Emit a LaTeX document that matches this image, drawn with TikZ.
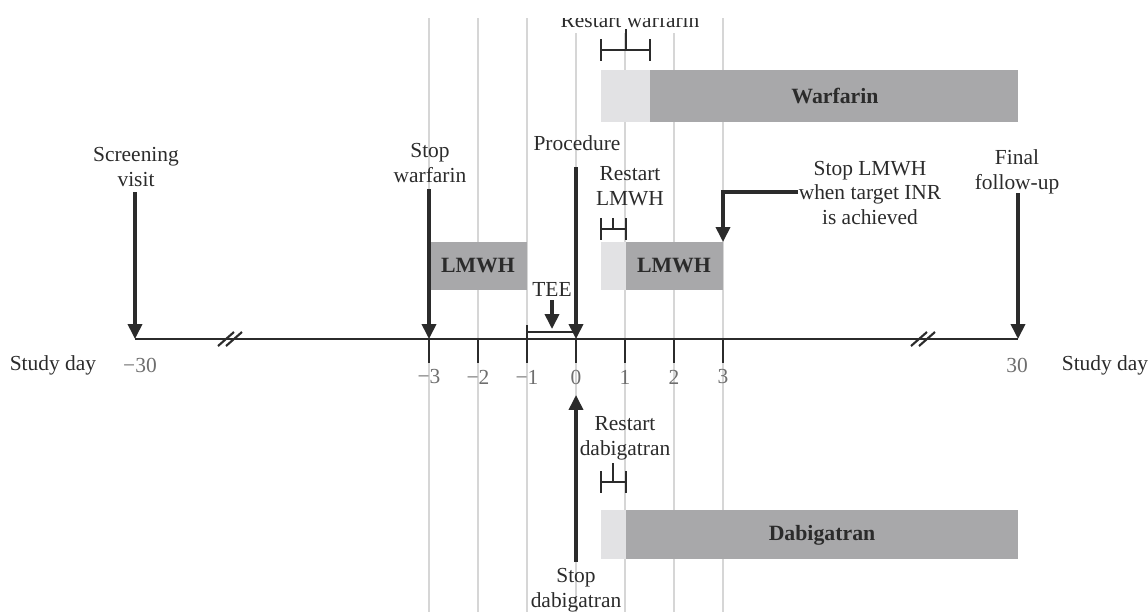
\documentclass[tikz,border=0pt]{standalone}
\usepackage{fontspec}
\setmainfont{Liberation Serif}
\usetikzlibrary{arrows.meta}

\definecolor{ink}{HTML}{2B2B2B}
\definecolor{gridgray}{HTML}{D6D6D6}
\definecolor{barlight}{HTML}{E2E2E4}
\definecolor{bardark}{HTML}{A8A8AA}
\definecolor{numgray}{HTML}{6E6E6E}

\tikzset{
  lbl/.style={text=ink, font=\fontsize{12.2}{14}\selectfont, align=center, inner sep=0pt},
  barlabel/.style={text=ink, font=\fontsize{12.4}{14}\selectfont\bfseries, inner sep=0pt},
  daynum/.style={text=numgray, font=\fontsize{12.2}{14}\selectfont, inner sep=0pt},
  event/.style={ink, line width=1.9pt, -{Triangle[width=8pt,length=8.5pt]}},
  axisline/.style={ink, line width=1.5pt},
  window/.style={ink, line width=1.2pt},
  gridline/.style={gridgray, line width=0.8pt},
  breakmark/.style={ink, line width=1.2pt},
}

\begin{document}
\begin{tikzpicture}[x=0.02cm, y=-0.02cm]
\useasboundingbox (0,0) rectangle (1148,612);
\begin{scope}
\clip (0,18) rectangle (1148,612);

% day grid, one line per day from -3 to 3
\foreach \d in {-3,...,3}
  \draw[gridline] ({576+49*\d},18) -- ({576+49*\d},612);

% ---- warfarin arm (top) ----
\node[lbl, fill=white, inner ysep=2.5pt, anchor=base] (rwarf) at (630,28) {Restart warfarin};
\coordinate (rw-stem) at (626,29);
\coordinate (rw-l) at (601,50);
\coordinate (rw-r) at (650,50);
\coordinate (rw-mid) at (626,50);
\draw[window] (rw-stem) -- (rw-mid);
\draw[window] (rw-l) -- (rw-r);
\draw[window] ([yshift=-6]rw-l) -- ([yshift=6]rw-l);
\draw[window] ([yshift=-6]rw-r) -- ([yshift=6]rw-r);
\fill[barlight] (601,70) rectangle (650,122);
\fill[bardark] (650,70) rectangle (1018,122);
\node[barlabel] (warf) at (835,96) {Warfarin};

% ---- LMWH bridging ----
\fill[bardark] (429,242) rectangle (527,290);
\node[barlabel] (lmwh1) at (478,266) {LMWH};
\fill[barlight] (601,242) rectangle (626,290);
\fill[bardark] (626,242) rectangle (723,290);
\node[barlabel] (lmwh2) at (674,266) {LMWH};

\node[lbl] (rlmwh) at (630,186) {Restart\\LMWH};
\coordinate (rl-stem) at (613,218);
\coordinate (rl-mid) at (613,229);
\coordinate (rl-l) at (601,229);
\coordinate (rl-r) at (626,229);
\draw[window] (rl-stem) -- (rl-mid);
\draw[window] (rl-l) -- (rl-r);
\draw[window] ([yshift=-6]rl-l) -- ([yshift=6]rl-l);
\draw[window] ([yshift=-6]rl-r) -- ([yshift=6]rl-r);

% ---- study day axis ----
\coordinate (ax-l) at (135,339);
\coordinate (ax-r) at (1018,339);
\draw[axisline] (ax-l) -- (ax-r);
\foreach \bx in {230,923}
  \foreach \o in {-4,4}
    \draw[breakmark] ({\bx+\o-8},346) -- ({\bx+\o+8},332);
\foreach \d/\t in {-3/−3,-2/−2,-1/−1,0/0,1/1,2/2,3/3} {
  \draw[axisline] ({576+49*\d},339) -- ({576+49*\d},363);
  \node[daynum] (day\d) at ({576+49*\d},377) {\t};
}
\node[daynum] (dm30) at (140,365) {−30};
\node[daynum] (dp30) at (1017,365) {30};
\node[lbl] (sdl) at (53,365) {Study day};
\node[lbl] (sdr) at (1105,365) {Study day};

% ---- events ----
\node[lbl] (screen) at (136,167) {Screening\\visit};
\coordinate (screen-top) at (135,192);
\draw[event] (screen-top) -- (ax-l);

\node[lbl] (stopw) at (430,163) {Stop\\warfarin};
\coordinate (stopw-top) at (429,189);
\coordinate (stopw-ax) at (429,339);
\draw[event] (stopw-top) -- (stopw-ax);

\node[lbl] (proc) at (577,143) {Procedure};
\coordinate (proc-top) at (576,167);
\coordinate (proc-ax) at (576,339);
\draw[event] (proc-top) -- (proc-ax);

\node[lbl] (tee) at (552,289) {TEE};
\coordinate (tee-top) at (552,300);
\coordinate (tee-tip) at (552,329);
\draw[event] (tee-top) -- (tee-tip);
\coordinate (tee-l) at (527,332);
\coordinate (tee-r) at (576,332);
\draw[window, line width=1.4pt] (tee-l) -- (tee-r);
\draw[window, line width=1.4pt] (527,325) -- (527,339);

\node[lbl] (slmwh) at (870,193) {Stop LMWH\\when target INR\\is achieved};
\coordinate (slmwh-out) at (798,192);
\coordinate (lmwh2-end) at (723,242);
\draw[event] (slmwh-out) -| (lmwh2-end);

\node[lbl] (final) at (1017,172) {Final\\follow-up};
\coordinate (final-top) at (1018,193);
\draw[event] (final-top) -- (ax-r);

% ---- dabigatran arm (bottom) ----
\node[lbl] (rdabi) at (625,438) {Restart\\dabigatran};
\coordinate (rd-stem) at (613,463);
\coordinate (rd-mid) at (613,482);
\coordinate (rd-l) at (601,482);
\coordinate (rd-r) at (626,482);
\draw[window] (rd-stem) -- (rd-mid);
\draw[window] (rd-l) -- (rd-r);
\draw[window] ([yshift=-6]rd-l) -- ([yshift=6]rd-l);
\draw[window] ([yshift=-6]rd-r) -- ([yshift=6]rd-r);
\fill[barlight] (601,510) rectangle (626,559);
\fill[bardark] (626,510) rectangle (1018,559);
\node[barlabel] (dabi) at (822,535) {Dabigatran};

\node[lbl] (sdabi) at (576,590) {Stop\\dabigatran};
\coordinate (sd-bot) at (576,562);
\coordinate (sd-tip) at (576,395);
\draw[event] (sd-bot) -- (sd-tip);
\end{scope}
\end{tikzpicture}
\end{document}
